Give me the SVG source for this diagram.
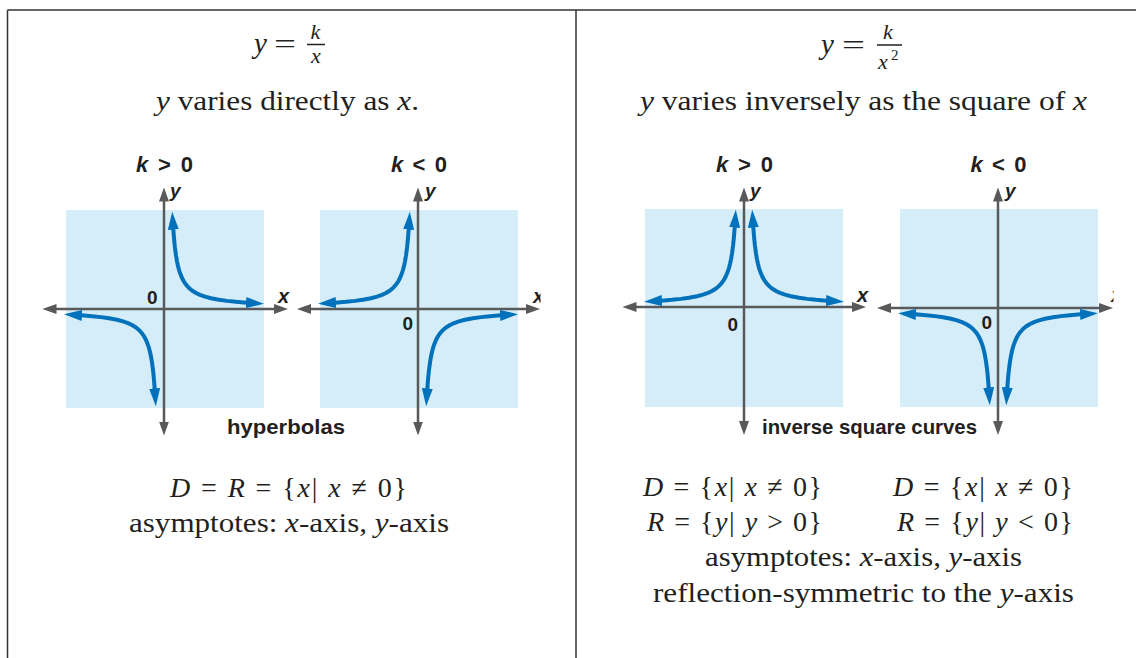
<svg xmlns="http://www.w3.org/2000/svg" xmlns:xlink="http://www.w3.org/1999/xlink" width="1136" height="658" viewBox="0 0 1136 658">
<style>
.frame{stroke:#333;stroke-width:1.5;fill:none}
.bg{fill:#d5ecf9}
.axis{stroke:#58595b;stroke-width:2.5;fill:none;marker-start:url(#ga);marker-end:url(#ga)}
.curve{stroke:#0072bc;stroke-width:4;fill:none;stroke-linejoin:round;marker-start:url(#ba);marker-end:url(#ba)}
.serif{font-family:"Liberation Serif","Times New Roman",serif;fill:#231f20}
.it{font-style:italic}
.sans{font-family:"Liberation Sans",Arial,sans-serif;font-weight:bold;fill:#231f20}
.bar{stroke:#231f20;stroke-width:1.5}
</style>
<defs>
<marker id="ga" markerUnits="userSpaceOnUse" viewBox="0 0 14 10" markerWidth="14" markerHeight="10" refX="3" refY="5" orient="auto-start-reverse"><path d="M0,0 L14,5 L0,10 Z" fill="#58595b"/></marker>
<marker id="ba" markerUnits="userSpaceOnUse" viewBox="0 0 18 11" markerWidth="18" markerHeight="11" refX="4" refY="5.5" orient="auto-start-reverse"><path d="M0,0 L18,5.5 L0,11 Z" fill="#0072bc"/></marker>
<path id="br" class="curve" d="M9.1,-83.35 L9.3,-80.25 L9.6,-76 L10,-71 L10.5,-65.6 L11,-61 L12,-53.5 L13,-47.7 L14,-43 L15,-39.2 L16,-36 L18,-31 L20,-27.25 L22,-24.3 L25,-21 L28,-18.5 L32,-16 L36,-14.1 L41,-12.35 L47,-10.77 L55,-9.24 L63,-8.12 L72,-7.18 L80,-6.53 L86,-6.12"/>
<clipPath id="c2"><rect x="290" y="140" width="250.5" height="310"/></clipPath>
<clipPath id="c4"><rect x="870" y="140" width="243.5" height="310"/></clipPath>
</defs>

<g id="frame">
<line class="frame" x1="7.5" y1="10" x2="1136" y2="10"/>
<line class="frame" x1="7.5" y1="10" x2="7.5" y2="658"/>
<line class="frame" x1="576" y1="10" x2="576" y2="658"/>
</g>

<g id="left-header">
<text class="serif it" x="254" y="53" font-size="29">y</text>
<text class="serif" x="274" y="53" font-size="28" textLength="22" lengthAdjust="spacingAndGlyphs">=</text>
<text class="serif it" x="315.5" y="38.5" font-size="22" text-anchor="middle">k</text>
<line class="bar" x1="307" y1="44.5" x2="325" y2="44.5"/>
<text class="serif it" x="316" y="63" font-size="22" text-anchor="middle">x</text>
<text class="serif" x="156" y="110" font-size="28" textLength="263" lengthAdjust="spacingAndGlyphs"><tspan class="it">y</tspan> varies directly as <tspan class="it">x</tspan>.</text>
</g>

<g id="right-header">
<text class="serif it" x="821" y="54" font-size="29">y</text>
<text class="serif" x="842" y="54" font-size="28" textLength="23" lengthAdjust="spacingAndGlyphs">=</text>
<text class="serif it" x="888" y="38.5" font-size="22" text-anchor="middle">k</text>
<line class="bar" x1="877" y1="45" x2="902" y2="45"/>
<text class="serif it" x="878" y="69" font-size="22">x</text>
<text class="serif" x="891" y="60" font-size="15">2</text>
<text class="serif" x="640" y="110" font-size="28" textLength="447" lengthAdjust="spacingAndGlyphs"><tspan class="it">y</tspan> varies inversely as the square of <tspan class="it">x</tspan></text>
</g>

<g id="graph1">
<rect class="bg" x="66" y="210" width="198" height="198"/>
<line class="axis" x1="53.5" y1="309" x2="277" y2="309"/>
<line class="axis" x1="164" y1="424.5" x2="164" y2="198.5"/>
<use xlink:href="#br" href="#br" transform="translate(164,309)"/>
<use xlink:href="#br" href="#br" transform="translate(164,309) rotate(180)"/>
<text class="sans" x="164.5" y="172" font-size="22" text-anchor="middle" textLength="57" lengthAdjust="spacing"><tspan class="it">k</tspan> &gt; 0</text>
<text class="sans it" x="170" y="197" font-size="19">y</text>
<text class="sans it" x="278" y="303" font-size="20">x</text>
<text class="sans" x="147" y="304" font-size="19">0</text>
</g>

<g id="graph2">
<rect class="bg" x="320" y="210" width="198" height="198"/>
<line class="axis" x1="308" y1="309" x2="529" y2="309"/>
<line class="axis" x1="418" y1="424.5" x2="418" y2="198.5"/>
<use xlink:href="#br" href="#br" transform="translate(418,309) scale(-1,1)"/>
<use xlink:href="#br" href="#br" transform="translate(418,309) scale(1,-1)"/>
<text class="sans" x="419" y="172" font-size="22" text-anchor="middle" textLength="56" lengthAdjust="spacing"><tspan class="it">k</tspan> &lt; 0</text>
<text class="sans it" x="425" y="197" font-size="19">y</text>
<text class="sans it" x="533" y="303" font-size="20" clip-path="url(#c2)">x</text>
<text class="sans" x="402.5" y="329.5" font-size="19">0</text>
</g>

<text class="sans" x="286" y="434" font-size="21" text-anchor="middle" textLength="118" lengthAdjust="spacingAndGlyphs">hyperbolas</text>

<g id="graph3">
<rect class="bg" x="645" y="209" width="198" height="198"/>
<line class="axis" x1="633.5" y1="307" x2="855" y2="307"/>
<line class="axis" x1="744" y1="424" x2="744" y2="198.5"/>
<use xlink:href="#br" href="#br" transform="translate(744,307)"/>
<use xlink:href="#br" href="#br" transform="translate(744,307) scale(-1,1)"/>
<text class="sans" x="744.5" y="172" font-size="22" text-anchor="middle" textLength="57" lengthAdjust="spacing"><tspan class="it">k</tspan> &gt; 0</text>
<text class="sans it" x="750" y="197" font-size="19">y</text>
<text class="sans it" x="857" y="302" font-size="20">x</text>
<text class="sans" x="727.5" y="331" font-size="19">0</text>
</g>

<g id="graph4">
<rect class="bg" x="900" y="209" width="198" height="198"/>
<line class="axis" x1="888" y1="308" x2="1102" y2="308"/>
<line class="axis" x1="998" y1="424" x2="998" y2="198.5"/>
<use xlink:href="#br" href="#br" transform="translate(998,308) scale(1,-1)"/>
<use xlink:href="#br" href="#br" transform="translate(998,308) scale(-1,-1)"/>
<text class="sans" x="998.5" y="172" font-size="22" text-anchor="middle" textLength="56" lengthAdjust="spacing"><tspan class="it">k</tspan> &lt; 0</text>
<text class="sans it" x="1005" y="197" font-size="19">y</text>
<text class="sans it" x="1111" y="302" font-size="20" clip-path="url(#c4)">x</text>
<text class="sans" x="981.5" y="329" font-size="19">0</text>
</g>

<text class="sans" x="869.5" y="434" font-size="21" text-anchor="middle" textLength="215" lengthAdjust="spacingAndGlyphs">inverse square curves</text>

<g id="left-notes">
<text class="serif" x="170" y="497" font-size="28" textLength="237" lengthAdjust="spacing"><tspan class="it">D</tspan> = <tspan class="it">R</tspan> = {<tspan class="it">x</tspan>| <tspan class="it">x</tspan> ≠ 0}</text>
<text class="serif" x="129" y="532" font-size="28" textLength="320" lengthAdjust="spacingAndGlyphs">asymptotes: <tspan class="it">x</tspan>-axis, <tspan class="it">y</tspan>-axis</text>
</g>

<g id="right-notes">
<text class="serif" x="643" y="496" font-size="28" textLength="179" lengthAdjust="spacing"><tspan class="it">D</tspan> = {<tspan class="it">x</tspan>| <tspan class="it">x</tspan> ≠ 0}</text>
<text class="serif" x="893" y="496" font-size="28" textLength="180" lengthAdjust="spacing"><tspan class="it">D</tspan> = {<tspan class="it">x</tspan>| <tspan class="it">x</tspan> ≠ 0}</text>
<text class="serif" x="647" y="531" font-size="28" textLength="175" lengthAdjust="spacing"><tspan class="it">R</tspan> = {<tspan class="it">y</tspan>| <tspan class="it">y</tspan> &gt; 0}</text>
<text class="serif" x="897" y="531" font-size="28" textLength="176" lengthAdjust="spacing"><tspan class="it">R</tspan> = {<tspan class="it">y</tspan>| <tspan class="it">y</tspan> &lt; 0}</text>
<text class="serif" x="705" y="566" font-size="28" textLength="317" lengthAdjust="spacingAndGlyphs">asymptotes: <tspan class="it">x</tspan>-axis, <tspan class="it">y</tspan>-axis</text>
<text class="serif" x="653" y="602" font-size="28" textLength="421" lengthAdjust="spacingAndGlyphs">reflection-symmetric to the <tspan class="it">y</tspan>-axis</text>
</g>
</svg>
